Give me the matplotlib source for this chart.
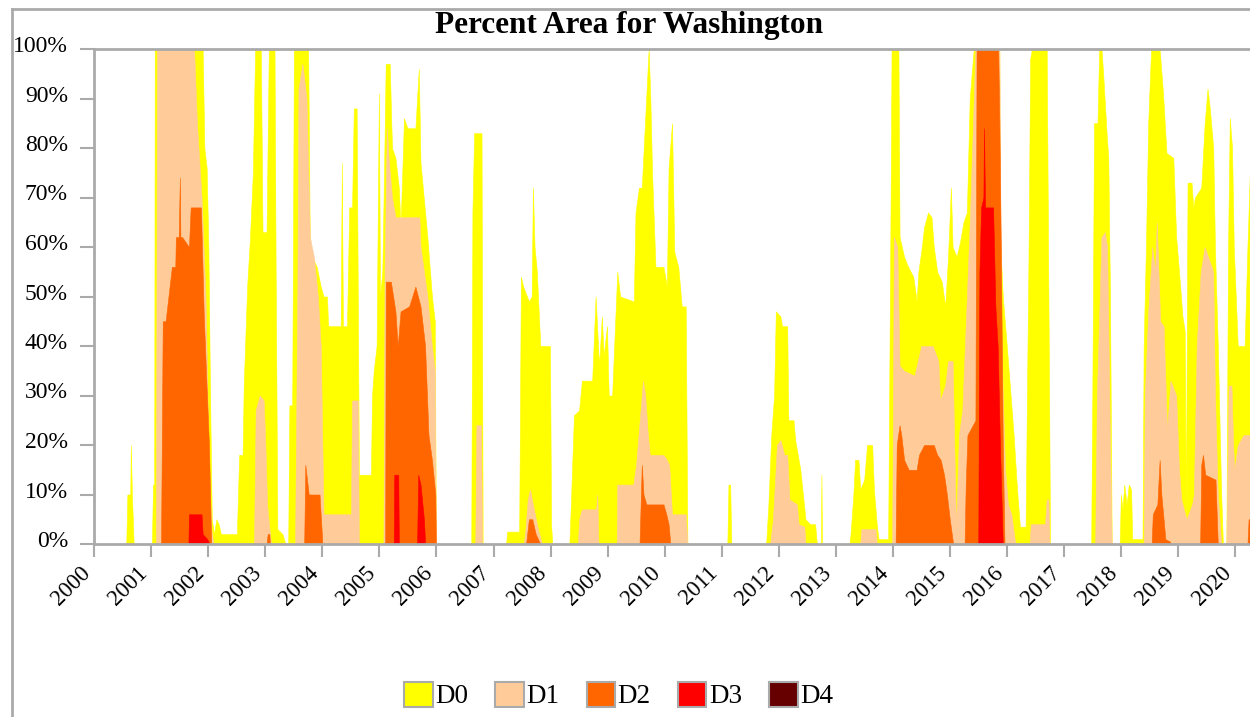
import matplotlib
matplotlib.use("Agg")
import matplotlib.pyplot as plt
from matplotlib.lines import Line2D
from matplotlib.patches import Patch
from matplotlib.transforms import ScaledTranslation

plt.rcParams['font.family'] = ['Liberation Serif', 'DejaVu Serif']

# cumulative percent of state area in each drought category (decimal year, percent)
d0 = [(2000.56, 0), (2000.58, 10), (2000.63, 10), (2000.64, 20), (2000.66, 10), (2000.69, 0),
      (2001.01, 0), (2001.03, 12), (2001.05, 12), (2001.06, 100), (2001.90, 100), (2001.93, 80),
      (2001.97, 76), (2002.00, 60), (2002.03, 30), (2002.06, 5), (2002.10, 2), (2002.14, 5),
      (2002.18, 4), (2002.22, 2), (2002.50, 2), (2002.54, 18), (2002.60, 18), (2002.62, 32),
      (2002.68, 52), (2002.73, 62), (2002.78, 75), (2002.82, 100), (2002.92, 100), (2002.95, 63),
      (2003.02, 63), (2003.06, 100), (2003.16, 100), (2003.18, 55), (2003.21, 3), (2003.30, 2),
      (2003.35, 0), (2003.40, 0), (2003.42, 28), (2003.47, 28), (2003.50, 100), (2003.75, 100),
      (2003.78, 59), (2003.90, 56), (2003.97, 52), (2004.02, 50), (2004.08, 50), (2004.10, 44),
      (2004.32, 44), (2004.34, 77), (2004.36, 44), (2004.43, 44), (2004.47, 68), (2004.52, 68),
      (2004.55, 88), (2004.60, 88), (2004.64, 14), (2004.85, 14), (2004.87, 30), (2004.90, 35),
      (2004.95, 40), (2004.99, 91), (2005.01, 50), (2005.05, 55), (2005.08, 75), (2005.11, 97),
      (2005.18, 97), (2005.22, 80), (2005.28, 78), (2005.34, 72), (2005.37, 64), (2005.43, 86),
      (2005.49, 84), (2005.63, 84), (2005.69, 96), (2005.72, 77), (2005.84, 62), (2005.92, 50),
      (2005.97, 45), (2005.99, 0), (2006.61, 0), (2006.63, 67), (2006.66, 83), (2006.79, 83),
      (2006.81, 0), (2007.22, 0), (2007.24, 2.5), (2007.45, 2.5), (2007.48, 54), (2007.52, 52),
      (2007.62, 49), (2007.67, 50), (2007.69, 72), (2007.72, 60), (2007.76, 55), (2007.82, 40),
      (2007.99, 40), (2008.01, 4), (2008.03, 0), (2008.33, 0), (2008.35, 6), (2008.41, 26),
      (2008.50, 27), (2008.55, 33), (2008.73, 33), (2008.79, 50), (2008.85, 36), (2008.90, 46),
      (2008.93, 38), (2008.99, 44), (2009.02, 30), (2009.08, 30), (2009.17, 55), (2009.22, 50),
      (2009.46, 49), (2009.49, 67), (2009.55, 72), (2009.60, 72), (2009.66, 86), (2009.72, 100),
      (2009.75, 90), (2009.78, 75), (2009.84, 56), (2009.98, 56), (2010.04, 52), (2010.07, 76),
      (2010.13, 85), (2010.17, 59), (2010.24, 56), (2010.30, 48), (2010.37, 48), (2010.40, 0),
      (2011.10, 0), (2011.12, 12), (2011.15, 12), (2011.17, 0), (2011.78, 0), (2011.82, 8),
      (2011.87, 22), (2011.92, 30), (2011.95, 47), (2012.03, 46), (2012.06, 44), (2012.15, 44),
      (2012.17, 25), (2012.26, 25), (2012.29, 21), (2012.38, 15), (2012.47, 5), (2012.55, 4),
      (2012.64, 4), (2012.67, 0), (2012.74, 0), (2012.75, 14), (2012.76, 0), (2013.24, 0),
      (2013.26, 2), (2013.31, 10), (2013.34, 17), (2013.40, 17), (2013.43, 11), (2013.50, 13),
      (2013.55, 20), (2013.64, 20), (2013.67, 11), (2013.72, 4), (2013.75, 1), (2013.92, 1),
      (2013.96, 65), (2013.98, 100), (2014.10, 100), (2014.12, 62), (2014.20, 58), (2014.27, 56),
      (2014.36, 54), (2014.42, 49), (2014.45, 55), (2014.51, 60), (2014.55, 64), (2014.62, 67),
      (2014.68, 66), (2014.72, 60), (2014.78, 55), (2014.86, 53), (2014.92, 48), (2014.97, 58),
      (2015.02, 72), (2015.05, 60), (2015.12, 58), (2015.18, 61), (2015.24, 65), (2015.30, 67),
      (2015.35, 90), (2015.42, 100), (2015.87, 100), (2015.88, 62), (2015.93, 50), (2016.00, 40),
      (2016.06, 31), (2016.12, 22), (2016.18, 11), (2016.23, 3.5), (2016.33, 3.5), (2016.35, 26),
      (2016.38, 57), (2016.41, 98), (2016.44, 100), (2016.70, 100), (2016.73, 50), (2016.76, 0),
      (2017.48, 0), (2017.50, 30), (2017.53, 85), (2017.59, 85), (2017.62, 100), (2017.66, 100),
      (2017.69, 95), (2017.75, 83), (2017.78, 78), (2017.81, 50), (2017.84, 0), (2017.98, 0),
      (2018.00, 10), (2018.03, 7), (2018.06, 12), (2018.10, 8), (2018.14, 12), (2018.18, 11),
      (2018.20, 1), (2018.38, 1), (2018.40, 40), (2018.44, 60), (2018.48, 85), (2018.53, 100),
      (2018.68, 100), (2018.74, 91), (2018.80, 79), (2018.92, 78), (2018.97, 62), (2019.02, 55),
      (2019.08, 46), (2019.12, 43), (2019.14, 5), (2019.17, 73), (2019.24, 73), (2019.27, 68),
      (2019.30, 70), (2019.41, 72), (2019.47, 85), (2019.52, 92), (2019.56, 88), (2019.62, 80),
      (2019.65, 60), (2019.70, 40), (2019.76, 10), (2019.79, 0), (2019.85, 0), (2019.88, 60),
      (2019.91, 86), (2019.95, 80), (2019.98, 60), (2020.05, 40), (2020.17, 40), (2020.22, 60),
      (2020.27, 78)]

d1 = [(2001.08, 0), (2001.10, 100), (2001.75, 100), (2001.80, 85), (2001.88, 70), (2001.95, 50),
      (2002.00, 20), (2002.05, 3), (2002.09, 0), (2002.80, 0), (2002.83, 27), (2002.90, 30),
      (2002.97, 29), (2003.00, 20), (2003.03, 8), (2003.08, 2), (2003.10, 0), (2003.52, 0),
      (2003.56, 50), (2003.58, 92), (2003.65, 97), (2003.72, 90), (2003.78, 62), (2003.85, 58),
      (2003.92, 50), (2003.97, 40), (2004.02, 6), (2004.50, 6), (2004.52, 29), (2004.62, 29),
      (2004.64, 0), (2005.07, 0), (2005.09, 55), (2005.13, 84), (2005.16, 78), (2005.22, 70),
      (2005.28, 66), (2005.70, 66), (2005.72, 60), (2005.84, 50), (2005.92, 40), (2005.97, 35),
      (2005.99, 0), (2006.68, 0), (2006.70, 24), (2006.78, 24), (2006.80, 0), (2007.53, 0),
      (2007.56, 3), (2007.60, 9), (2007.64, 11), (2007.69, 8), (2007.78, 3), (2007.85, 0),
      (2008.48, 0), (2008.50, 5), (2008.55, 7), (2008.80, 7), (2008.82, 10), (2008.84, 0),
      (2009.16, 0), (2009.17, 12), (2009.45, 12), (2009.50, 16), (2009.55, 23), (2009.62, 33),
      (2009.66, 30), (2009.70, 23), (2009.74, 18), (2009.98, 18), (2010.04, 17), (2010.08, 16),
      (2010.13, 6), (2010.37, 6), (2010.40, 0), (2011.85, 0), (2011.90, 5), (2011.97, 20),
      (2012.03, 21), (2012.10, 18), (2012.15, 18), (2012.19, 9), (2012.32, 8), (2012.35, 4),
      (2012.45, 3.5), (2012.47, 0), (2013.43, 0), (2013.45, 3), (2013.70, 3), (2013.72, 0),
      (2013.99, 0), (2014.02, 62), (2014.08, 60), (2014.12, 36), (2014.20, 35), (2014.38, 34),
      (2014.50, 40), (2014.70, 40), (2014.80, 37), (2014.83, 29), (2014.92, 32), (2014.97, 37),
      (2015.05, 37), (2015.08, 20), (2015.11, 3), (2015.16, 22), (2015.22, 27), (2015.30, 50),
      (2015.35, 65), (2015.45, 100), (2015.87, 100), (2015.90, 45), (2015.93, 30), (2015.97, 15),
      (2016.02, 8), (2016.08, 6), (2016.15, 0), (2016.40, 0), (2016.42, 4), (2016.67, 4),
      (2016.70, 9), (2016.73, 9), (2016.75, 0), (2017.55, 0), (2017.58, 30), (2017.66, 62),
      (2017.72, 63), (2017.76, 60), (2017.81, 20), (2017.84, 0), (2018.40, 0), (2018.42, 30),
      (2018.48, 47), (2018.55, 60), (2018.60, 55), (2018.63, 65), (2018.66, 55), (2018.69, 45),
      (2018.75, 44), (2018.81, 23), (2018.87, 33), (2018.97, 30), (2019.02, 15), (2019.06, 9),
      (2019.15, 5), (2019.25, 8), (2019.28, 10), (2019.33, 40), (2019.40, 55), (2019.47, 60),
      (2019.53, 58), (2019.62, 55), (2019.65, 30), (2019.70, 10), (2019.76, 0), (2019.85, 0),
      (2019.89, 32), (2019.94, 32), (2019.97, 20), (2019.99, 15), (2020.05, 20), (2020.15, 22),
      (2020.27, 22)]

d2 = [(2001.17, 0), (2001.20, 45), (2001.25, 45), (2001.36, 56), (2001.42, 56), (2001.43, 62),
      (2001.48, 62), (2001.50, 74), (2001.51, 62), (2001.54, 62), (2001.66, 60), (2001.69, 68),
      (2001.87, 68), (2001.92, 46), (2002.01, 20), (2002.05, 0), (2003.02, 0), (2003.04, 2),
      (2003.07, 2), (2003.08, 0), (2003.68, 0), (2003.70, 16), (2003.76, 10), (2003.95, 10),
      (2004.00, 0), (2005.10, 0), (2005.11, 53), (2005.20, 53), (2005.28, 47), (2005.32, 40),
      (2005.37, 47), (2005.52, 48), (2005.63, 52), (2005.72, 48), (2005.80, 40), (2005.86, 22),
      (2005.92, 17), (2005.98, 10), (2005.99, 0), (2007.57, 0), (2007.59, 2), (2007.62, 5),
      (2007.68, 5), (2007.74, 2), (2007.80, 0.5), (2007.82, 0), (2009.56, 0), (2009.60, 16),
      (2009.63, 10), (2009.68, 8), (2009.98, 8), (2010.03, 6), (2010.07, 4), (2010.10, 0),
      (2014.05, 0), (2014.07, 20), (2014.12, 24), (2014.15, 22), (2014.20, 17), (2014.28, 15),
      (2014.42, 15), (2014.46, 18), (2014.55, 20), (2014.72, 20), (2014.78, 18), (2014.84, 17),
      (2014.90, 14), (2014.95, 10), (2015.00, 5), (2015.06, 0), (2015.26, 0), (2015.28, 12),
      (2015.31, 22), (2015.45, 25), (2015.47, 100), (2015.85, 100), (2015.87, 85), (2015.90, 55),
      (2015.93, 20), (2015.96, 0), (2018.54, 0), (2018.56, 6), (2018.64, 8), (2018.68, 17),
      (2018.71, 10), (2018.75, 5), (2018.78, 1), (2018.86, 0.5), (2018.88, 0), (2019.39, 0),
      (2019.41, 16), (2019.44, 18), (2019.48, 14), (2019.66, 13), (2019.70, 0), (2020.22, 0),
      (2020.24, 5), (2020.27, 5)]

d3 = [(2001.65, 0), (2001.66, 6), (2001.88, 6), (2001.90, 2), (2001.98, 1), (2002.02, 0),
      (2005.25, 0), (2005.26, 14), (2005.33, 14), (2005.34, 0), (2005.66, 0), (2005.68, 14),
      (2005.72, 12), (2005.78, 5), (2005.80, 0), (2015.50, 0), (2015.52, 55), (2015.55, 68),
      (2015.59, 70), (2015.60, 84), (2015.62, 68), (2015.76, 68), (2015.80, 48), (2015.84, 40),
      (2015.88, 20), (2015.93, 0)]

d4 = []

categories = ['D0', 'D1', 'D2', 'D3', 'D4']
colors = ['#FFFF00', '#FFCC99', '#FF6600', '#FF0000', '#660000']
series = [d0, d1, d2, d3, d4]
years = list(range(2000, 2021))
yticks = list(range(0, 101, 10))

grey = '#AAAAAA'
W, H = 1250, 717
fig = plt.figure(figsize=(W / 100, H / 100), dpi=100)
ax = fig.add_axes([94.3 / W, 173 / H, 1 - 94.3 / W, 495 / H])

for data, c in zip(series, colors):
    if not data:
        continue
    x, y = zip(*data)
    ax.fill_between(x, 0, y, facecolor=c, edgecolor=c, linewidth=0.4)

ax.set_xlim(2000, 2000 + (W - 94.3) / 57.03)
ax.set_ylim(0, 100)

ax.set_yticks(yticks)
ax.set_yticklabels([f'{v}%' for v in yticks], fontsize=17)
ax.set_xticks(years)
ax.set_xticklabels([str(v) for v in years], fontsize=16.5, rotation=45,
                   ha='right', va='center', rotation_mode='anchor')
ax.tick_params(axis='y', length=10, width=1.5, color=grey, pad=9)
ax.tick_params(axis='x', length=9, width=1.5, color=grey, pad=9)
for lab in ax.get_yticklabels():
    lab.set_transform(lab.get_transform() + ScaledTranslation(0, 0.05, fig.dpi_scale_trans))
for lab in ax.get_xticklabels():
    lab.set_transform(lab.get_transform() + ScaledTranslation(-0.07, -0.01, fig.dpi_scale_trans))

for side in ['left', 'bottom', 'top']:
    ax.spines[side].set_color(grey)
    ax.spines[side].set_linewidth(2)
ax.spines['right'].set_visible(False)

fig.text(0.503, 1 - 33 / H, 'Percent Area for Washington', ha='center', va='baseline',
         fontsize=22.5, fontweight='bold')

# outer frame
fig.add_artist(Line2D([12 / W, 1], [1 - 9 / H] * 2, transform=fig.transFigure, color=grey, lw=2))
fig.add_artist(Line2D([12 / W] * 2, [0, 1 - 9 / H], transform=fig.transFigure, color=grey, lw=2))

handles = [Patch(facecolor=c, edgecolor=grey, linewidth=1.5, label=l)
           for c, l in zip(colors, categories)]
fig.legend(handles=handles, loc='center', bbox_to_anchor=(0.495, 0.03), ncol=5, frameon=False,
           fontsize=19.5, handlelength=1.05, handleheight=1.05, handletextpad=0.1,
           columnspacing=1.0)

fig.savefig('out.png', dpi=100)
